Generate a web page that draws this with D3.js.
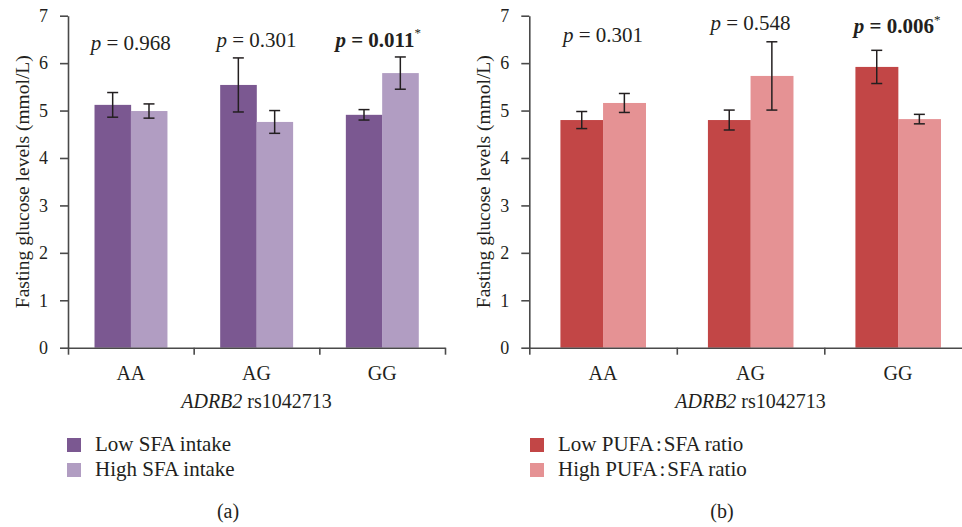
<!DOCTYPE html>
<html>
<head>
<meta charset="utf-8">
<script src="https://cdn.jsdelivr.net/npm/d3@7"></script>
<style>
  html, body { margin: 0; padding: 0; background: #fff; }
  svg { display: block; font-family: "Liberation Serif", "DejaVu Serif", serif; }
  .axis path, .axis line { stroke: #4a4a4a; stroke-width: 1.6; }
</style>
</head>
<body>
<svg id="chart" width="962" height="527"></svg>
<script>
const GENOTYPES = ["AA", "AG", "GG"];
const Y_TICKS = [0, 1, 2, 3, 4, 5, 6, 7];

// (a) SFA intake
const SFA_LOW = [5.12, 5.54, 4.91];
const SFA_LOW_ERR = [0.26, 0.57, 0.11];
const SFA_HIGH = [4.99, 4.76, 5.79];
const SFA_HIGH_ERR = [0.15, 0.24, 0.34];
const SFA_P = ["0.968", "0.301", "0.011"];
const SFA_SIG = [false, false, true];
const SFA_LEGEND = [["Low SFA intake"], ["High SFA intake"]];

// (b) PUFA:SFA ratio
const PUFA_LOW = [4.80, 4.80, 5.92];
const PUFA_LOW_ERR = [0.18, 0.21, 0.35];
const PUFA_HIGH = [5.16, 5.73, 4.82];
const PUFA_HIGH_ERR = [0.20, 0.72, 0.10];
const PUFA_P = ["0.301", "0.548", "0.006"];
const PUFA_SIG = [false, false, true];
const PUFA_LEGEND = [["Low PUFA", ":", "SFA ratio"], ["High PUFA", ":", "SFA ratio"]];

const TEXT = "#231f20";
const FONT = "'Liberation Serif', 'DejaVu Serif', serif";
const svg = d3.select("#chart");

const yScale = d3.scaleLinear().domain([0, 7]).range([347.7, 15.7]);

drawPanel({
  x0: 68, x1: 445,
  low: SFA_LOW, lowErr: SFA_LOW_ERR, high: SFA_HIGH, highErr: SFA_HIGH_ERR,
  pvals: SFA_P, sig: SFA_SIG, pY: [6.28, 6.35, 6.35], pDx: [0, 0, -4],
  colors: ["#7b5891", "#b19dc2"],
  legend: SFA_LEGEND, legendX: 67, titleX: 29,
  tag: "(a)", tagX: 228
});

drawPanel({
  x0: 529.3, x1: 971.8,
  low: PUFA_LOW, lowErr: PUFA_LOW_ERR, high: PUFA_HIGH, highErr: PUFA_HIGH_ERR,
  pvals: PUFA_P, sig: PUFA_SIG, pY: [6.45, 6.70, 6.63], pDx: [0, 0, -1],
  colors: ["#c24646", "#e59294"],
  legend: PUFA_LEGEND, legendX: 530, titleX: 490,
  tag: "(b)", tagX: 722
});

function drawPanel(cfg) {
  const g = svg.append("g");

  const xBand = d3.scaleBand()
    .domain(GENOTYPES)
    .range([cfg.x0, cfg.x1])
    .padding(0);

  const xSub = d3.scaleBand()
    .domain(["low", "high"])
    .range([0, xBand.bandwidth()])
    .paddingInner(0)
    .paddingOuter(0.73);

  const rows = [];
  GENOTYPES.forEach((gt, i) => {
    rows.push({ gt, key: "low", v: cfg.low[i], e: cfg.lowErr[i], color: cfg.colors[0] });
    rows.push({ gt, key: "high", v: cfg.high[i], e: cfg.highErr[i], color: cfg.colors[1] });
  });

  // bars
  g.selectAll(".bar")
    .data(rows)
    .enter()
    .append("rect")
    .attr("x", d => xBand(d.gt) + xSub(d.key))
    .attr("width", xSub.bandwidth() + 0.3)
    .attr("y", d => yScale(d.v))
    .attr("height", d => yScale(0) - yScale(d.v))
    .attr("fill", d => d.color);

  // error bars
  const cap = 5.5;
  const err = g.selectAll(".err")
    .data(rows)
    .enter()
    .append("g")
    .attr("stroke", TEXT)
    .attr("stroke-width", 1.5);

  const cx = d => xBand(d.gt) + xSub(d.key) + xSub.bandwidth() / 2;

  err.append("line")
    .attr("x1", cx).attr("x2", cx)
    .attr("y1", d => yScale(d.v + d.e))
    .attr("y2", d => yScale(d.v - d.e));
  err.append("line")
    .attr("x1", d => cx(d) - cap).attr("x2", d => cx(d) + cap)
    .attr("y1", d => yScale(d.v + d.e)).attr("y2", d => yScale(d.v + d.e));
  err.append("line")
    .attr("x1", d => cx(d) - cap).attr("x2", d => cx(d) + cap)
    .attr("y1", d => yScale(d.v - d.e)).attr("y2", d => yScale(d.v - d.e));

  // y axis
  g.append("g")
    .attr("class", "axis")
    .attr("transform", `translate(${cfg.x0},0)`)
    .call(d3.axisLeft(yScale).tickValues(Y_TICKS).tickFormat(d3.format("d"))
      .tickSize(8).tickSizeOuter(0).tickPadding(12))
    .attr("font-family", FONT)
    .attr("font-size", 18)
    .call(a => a.selectAll("text").attr("fill", TEXT));

  // x axis: line and boundary ticks
  const xEdge = d3.scaleLinear().domain([0, GENOTYPES.length]).range([cfg.x0, cfg.x1]);
  g.append("g")
    .attr("class", "axis")
    .attr("transform", `translate(0,${yScale(0)})`)
    .call(d3.axisBottom(xEdge).tickValues(d3.range(GENOTYPES.length + 1))
      .tickSize(7).tickSizeOuter(0).tickFormat(""));

  // x labels
  g.append("g")
    .attr("class", "axis")
    .attr("transform", `translate(0,${yScale(0)})`)
    .call(d3.axisBottom(xBand).tickSize(0).tickPadding(18))
    .attr("font-family", FONT)
    .attr("font-size", 20)
    .call(a => a.select(".domain").remove())
    .call(a => a.selectAll("text").attr("fill", TEXT));

  // x title
  const xt = g.append("text")
    .attr("x", xBand("AG") + xBand.bandwidth() / 2)
    .attr("y", 408)
    .attr("text-anchor", "middle")
    .attr("font-size", "20px")
    .attr("fill", TEXT);
  xt.append("tspan").attr("font-style", "italic").text("ADRB2");
  xt.append("tspan").text(" rs1042713");

  // y title
  g.append("text")
    .attr("transform", `translate(${cfg.titleX},${(yScale(0) + yScale(7)) / 2}) rotate(-90)`)
    .attr("text-anchor", "middle")
    .attr("font-size", "19.5px")
    .attr("fill", TEXT)
    .text("Fasting glucose levels (mmol/L)");

  // p values
  GENOTYPES.forEach((gt, i) => {
    const t = g.append("text")
      .attr("x", xBand(gt) + xBand.bandwidth() / 2 + cfg.pDx[i])
      .attr("y", yScale(cfg.pY[i]))
      .attr("text-anchor", "middle")
      .attr("font-size", "21px")
      .attr("fill", TEXT)
      .attr("font-weight", cfg.sig[i] ? "bold" : "normal");
    t.append("tspan").attr("font-style", "italic").text("p");
    t.append("tspan").text(" = " + cfg.pvals[i]);
    if (cfg.sig[i]) {
      t.append("tspan")
        .attr("font-weight", "normal")
        .attr("font-size", "13px")
        .attr("dy", "-0.7em")
        .text("*");
    }
  });

  // legend
  cfg.legend.forEach((parts, i) => {
    g.append("rect")
      .attr("x", cfg.legendX)
      .attr("y", 438 + i * 25)
      .attr("width", 14)
      .attr("height", 14)
      .attr("fill", cfg.colors[i]);
    const lt = g.append("text")
      .attr("x", cfg.legendX + 28)
      .attr("y", 451 + i * 25)
      .attr("font-size", "21px")
      .attr("fill", TEXT);
    parts.forEach((p, j) => {
      lt.append("tspan").attr("dx", j > 0 ? 2 : 0).text(p);
    });
  });

  g.append("text")
    .attr("x", cfg.tagX)
    .attr("y", 518)
    .attr("text-anchor", "middle")
    .attr("font-size", "20px")
    .attr("fill", TEXT)
    .text(cfg.tag);
}
</script>
</body>
</html>
